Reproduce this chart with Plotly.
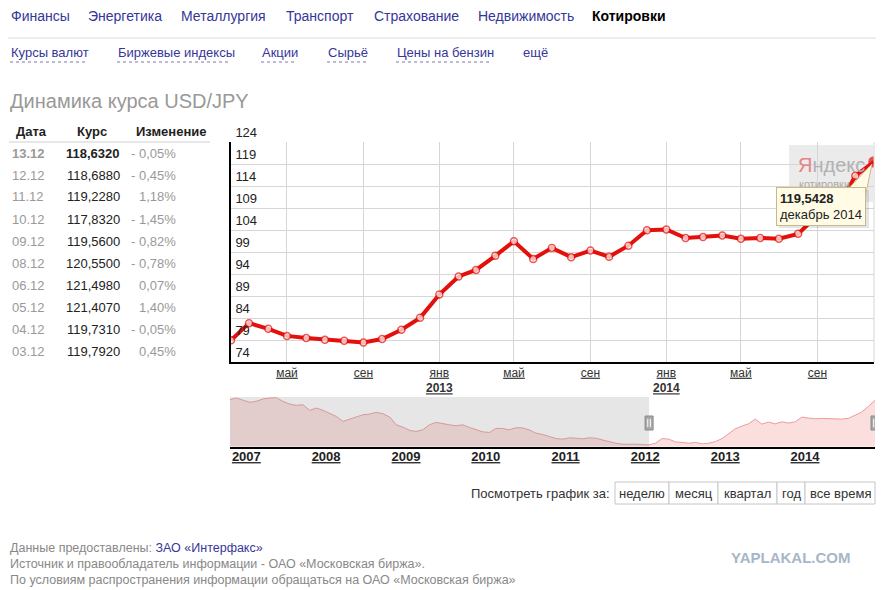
import plotly.graph_objects as go
import pandas as pd

# страница рисуется с отступом body 8px, поэтому всё сдвигаем на 8px
PAGE_W, PAGE_H = 884, 590
OFF = 8
W, H = PAGE_W - OFF, PAGE_H - OFF
FONT = "Liberation Sans, Arial, sans-serif"

# верхнее меню
menu_top = ["Финансы", "Энергетика", "Металлургия", "Транспорт", "Страхование", "Недвижимость", "Котировки"]
menu_sub = ["Курсы валют", "Биржевые индексы", "Акции", "Сырьё", "Цены на бензин", "ещё"]

# таблица последних значений
table_dates = ["13.12", "12.12", "11.12", "10.12", "09.12", "08.12", "06.12", "05.12", "04.12", "03.12"]
table_rates = [118.6320, 118.6880, 119.2280, 117.8320, 119.5600, 120.5500, 121.4980, 121.4070, 119.7310, 119.7920]
table_changes = [-0.05, -0.45, 1.18, -1.45, -0.82, -0.78, 0.07, 1.40, -0.05, 0.45]

# основной график (по месяцам, фев 2012 - дек 2014)
main_dates = pd.date_range("2012-02-01", periods=35, freq="MS")
main_rates = [79.0, 82.9, 81.6, 80.0, 79.5, 79.1, 78.9, 78.5, 79.3, 81.4, 84.1,
              89.4, 93.5, 95.0, 98.2, 101.5, 97.5, 100.0, 97.9, 99.4, 98.0, 100.5, 104.0,
              104.2, 102.25, 102.5, 102.8, 102.1, 102.25, 102.1, 103.2, 107.4, 108.4, 116.4, 119.5428]
main_ticks = ["2012-05-01", "2012-09-01", "2013-01-01", "2013-05-01",
              "2013-09-01", "2014-01-01", "2014-05-01", "2014-09-01"]
main_tick_text = ["май", "сен", "янв|2013", "май", "сен", "янв|2014", "май", "сен"]
tooltip_month = "декабрь 2014"

# навигатор (ноя 2006 - дек 2014)
nav_dates = pd.date_range("2006-11-01", periods=98, freq="MS")
nav_rates = [121.8, 123.5, 121.2, 119.2, 120.2, 122.5, 123.5, 123.8, 120.2, 117.5,
             116.2, 116.8, 111.2, 113.5, 111.2, 107.8, 105.2, 100.2, 102.5, 104.5,
             106.8, 107.5, 109.2, 107.8, 104.5, 96.8, 94.5, 91.2, 90.2, 91.8,
             96.8, 99.2, 97.8, 96.8, 95.8, 96.8, 94.2, 91.8, 89.8, 89.2,
             93.2, 93.2, 91.8, 93.8, 93.8, 91.8, 88.5, 87.2, 85.2, 83.2,
             82.5, 83.8, 83.5, 82.8, 83.8, 83.5, 81.8, 79.8, 78.5, 77.5,
             77.8, 77.5, 77.2, 76.8, 78.5, 83.2, 82.5, 79.8, 79.2, 78.5,
             79.2, 77.8, 78.5, 80.2, 83.2, 87.8, 92.8, 95.5, 97.8, 102.5,
             97.5, 99.5, 97.8, 99.8, 98.5, 99.8, 104.5, 103.5, 102.8, 103.2,
             102.8, 102.5, 102.5, 103.2, 106.8, 109.5, 115.2, 121.2]
nav_years = ["2007", "2008", "2009", "2010", "2011", "2012", "2013", "2014"]

periods = ["неделю", "месяц", "квартал", "год", "все время"]


def px(x):
    return (x - OFF) / W


def py(y):
    return 1 - (y - OFF) / H


ann = []
shapes = []


def text(x, y, s, size=13, color="#333", anchor="left"):
    ann.append(dict(x=px(x), y=py(y), xref="paper", yref="paper", text=s, showarrow=False,
                    xanchor=anchor, yanchor="middle", font=dict(size=size, color=color)))


def hline(x0, x1, y, color, width=1, dash="solid"):
    shapes.append(dict(type="line", xref="paper", yref="paper", x0=px(x0), x1=px(x1),
                       y0=py(y), y1=py(y), line=dict(color=color, width=width, dash=dash)))


def path(points):
    return "M " + " L ".join(f"{px(a):.5f},{py(b):.5f}" for a, b in points) + " Z"


# меню
LINK = "#36369a"
top_x = [9, 86, 179, 284, 372, 476, 590]
for i, s in enumerate(menu_top):
    if i == len(menu_top) - 1:
        text(top_x[i], 16, "<b>" + s + "</b>", 14, "#000")
    else:
        text(top_x[i], 16, s, 14, LINK)
hline(OFF, PAGE_W, 38, "#dcdcdc")
sub_x = [9, 116, 260, 326, 395, 521]
sub_w = [77, 114, 36, 40, 95, 0]
for s, x, w in zip(menu_sub, sub_x, sub_w):
    text(x, 53, s, 13, LINK)
    if w:
        hline(x + 1, x + w, 62, "#7a7aa8", 1, "dot")

text(8, 101, "Динамика курса USD/JPY", 20, "#999")

# таблица
text(14, 131, "<b>Дата</b>", 13, "#222")
text(75, 131, "<b>Курс</b>", 13, "#222")
text(134, 131, "<b>Изменение</b>", 13, "#222")
hline(9, 210, 142, "#d0d0d0")
for i, (d, r, c) in enumerate(zip(table_dates, table_rates, table_changes)):
    y = 153 + 22 * i
    rs = f"{r:.4f}".replace(".", ",")
    cs = (("- " if c < 0 else "") + f"{abs(c):.2f}".replace(".", ",") + "%")
    if i == 0:
        d, rs = "<b>" + d + "</b>", "<b>" + rs + "</b>"
    text(10, y, d, 13, "#999")
    text(122, y, rs, 13, "#222", "right")
    text(178, y, cs, 13, "#999", "right")

# подписи оси
tick_text = []
for t in main_tick_text:
    parts = t.split("|")
    s = "<u>" + parts[0] + "</u>"
    if len(parts) > 1:
        s += "<br><b><u>" + parts[1] + "</u></b>"
    tick_text.append(s)

fig = go.Figure()
fig.add_trace(go.Scatter(x=nav_dates, y=nav_rates, xaxis="x2", yaxis="y2", mode="lines",
                         line=dict(color="#ec9c9c", width=1), fill="tozeroy", fillcolor="#fbdede",
                         hoverinfo="skip"))
n = len(main_rates)
fig.add_trace(go.Scatter(x=main_dates, y=main_rates, mode="lines+markers",
                         line=dict(color="#e4100c", width=4),
                         marker=dict(size=[7] * (n - 1) + [10], color=["white"] * (n - 1) + ["#e4100c"],
                                     line=dict(color="#e4100c", width=1.5))))

# подложка "Яндекс котировки"
shapes.append(dict(type="rect", xref="paper", yref="paper", x0=px(789), x1=px(873), y0=py(202), y1=py(145),
                   fillcolor="#ebebeb", line=dict(width=0), layer="between"))
text(796, 165, "<span style='color:#e48484'>Я</span>ндекс", 20, "#b2b2b2")
text(797, 184, "котировки", 11, "#aaa")
# правая граница графика
shapes.append(dict(type="line", xref="x domain", yref="y domain", x0=1, x1=1, y0=0, y1=1,
                   line=dict(color="#d4d4d4", width=1)))

# навигатор: маска и ползунки
shapes.append(dict(type="rect", xref="x2", yref="y2 domain", x0=nav_dates[0], x1=main_dates[0], y0=0, y1=1,
                   fillcolor="rgba(140,140,140,0.22)", line=dict(width=0), layer="above"))
for d in [main_dates[0], main_dates[-1]]:
    shapes.append(dict(type="rect", xref="x2", xsizemode="pixel", xanchor=d, x0=-4, x1=4,
                       yref="paper", y0=py(430), y1=py(416), fillcolor="#a9a9a9",
                       line=dict(color="#888", width=1)))
    for dx in (-1.3, 1.3):
        shapes.append(dict(type="line", xref="x2", xsizemode="pixel", xanchor=d, x0=dx, x1=dx,
                           yref="paper", y0=py(427), y1=py(419), line=dict(color="white", width=1)))

# подсказка
tip_val = f"{main_rates[-1]:.4f}".replace(".", ",")
shapes.append(dict(type="path", xref="paper", yref="paper",
                   path=path([(779, 190), (869, 190), (869, 228), (779, 228)]),
                   fillcolor="rgba(0,0,0,0.10)", line=dict(width=0), layer="above"))
shapes.append(dict(type="path", xref="paper", yref="paper",
                   path=path([(848, 189), (872, 164), (865, 198)]),
                   fillcolor="#fffbe4", line=dict(color="#c8b98c", width=1), layer="above"))
ann.append(dict(x=px(776), y=py(187), xref="paper", yref="paper", showarrow=False,
                xanchor="left", yanchor="top", align="left", valign="middle",
                text="<b>" + tip_val + "</b><br>" + tooltip_month,
                width=82, height=31, borderpad=3, bgcolor="#fffbe4", bordercolor="#c8b98c", borderwidth=1,
                font=dict(size=13, color="#222")))

# кнопки периода
text(612, 493, "Посмотреть график за:", 13, "#333", "right")
edges = [615, 669, 718, 777, 805, 875]
for i, s in enumerate(periods):
    shapes.append(dict(type="rect", xref="paper", yref="paper", x0=px(edges[i]), x1=px(edges[i + 1]),
                       y0=py(504), y1=py(482), line=dict(color="#c6c6c6", width=1), fillcolor="white"))
    text((edges[i] + edges[i + 1]) / 2, 493, s, 13, "#333", "center")

# подвал
text(790, 557, "<b>YAPLAKAL.COM</b>", 15, "#a7b6c8", "center")
text(8, 548, "Данные предоставлены: <span style='color:#36369a'>ЗАО «Интерфакс»</span>", 12.5, "#888")
text(8, 564, "Источник и правообладатель информации - ОАО «Московская биржа».", 12.5, "#888")
text(8, 580, "По условиям распространения информации обращаться на ОАО «Московская биржа»", 12.5, "#888")

fig.update_layout(
    width=W, height=H, margin=dict(l=0, r=0, t=0, b=0, autoexpand=False),
    paper_bgcolor="white", plot_bgcolor="white", showlegend=False,
    font=dict(family=FONT, color="#333"),
    xaxis=dict(domain=[px(231), px(874)], range=[main_dates[0], main_dates[-1]], type="date",
               tickvals=main_ticks, ticktext=tick_text, showgrid=True, gridcolor="#d6d6d6",
               showline=True, linecolor="#000", linewidth=2, ticks="", zeroline=False,
               ticklabelstandoff=-2, tickfont=dict(size=12, color="#333"), anchor="y",
               fixedrange=True, automargin=False),
    yaxis=dict(domain=[py(362.3), py(142.3)], range=[74, 124], tick0=74, dtick=5,
               gridcolor="#d6d6d6", showline=True, linecolor="#000", linewidth=2, zeroline=False,
               ticks="", ticklabelposition="inside", ticklabeloverflow="allow",
               ticklabelshift=-10, ticklabelstandoff=4, tickfont=dict(size=13, color="#222"),
               anchor="x", fixedrange=True, automargin=False),
    xaxis2=dict(domain=[px(230), px(875)], range=[nav_dates[0], nav_dates[-1]], type="date",
                tickvals=[y + "-01-01" for y in nav_years],
                ticktext=["<b><u>" + y + "</u></b>" for y in nav_years],
                showgrid=False, showline=True, linecolor="#000", linewidth=2, ticks="", zeroline=False,
                ticklabelstandoff=-3, tickfont=dict(size=13, color="#222"), ticklabelshift=3,
                anchor="y2", fixedrange=True, automargin=False),
    yaxis2=dict(domain=[py(446.5), py(397)], range=[75.2, 124.5], visible=False, anchor="x2",
                fixedrange=True, automargin=False),
    shapes=shapes, annotations=ann,
)

fig.write_html("out.html")
